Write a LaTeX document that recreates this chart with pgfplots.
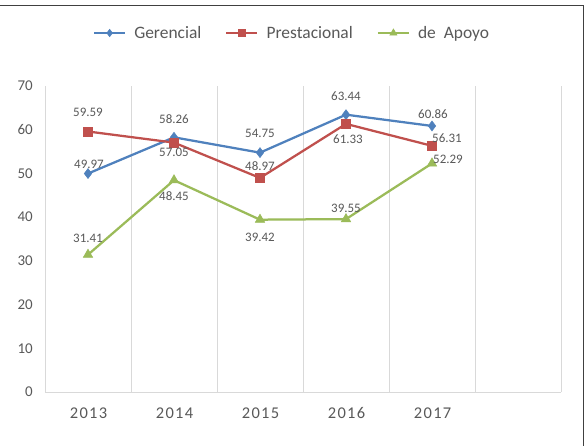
\documentclass[border=0pt]{standalone}
\usepackage{pgfplots}
\pgfplotsset{compat=1.18}
\usepackage{pgfplotstable}
\usepackage{fontspec}
\setmainfont{Carlito}
\newfontfamily\spacedfont[LetterSpace=8]{Carlito}

\definecolor{serieA}{HTML}{4F81BD}
\definecolor{serieB}{HTML}{C0504D}
\definecolor{serieC}{HTML}{9BBB59}
\definecolor{txtgray}{HTML}{595959}
\definecolor{gridgray}{HTML}{D9D9D9}
\definecolor{framegray}{HTML}{404040}

% x = year index, y = value, dx/dy = label offset (bp)
\pgfplotstableread{
x y dx dy
0 49.97 1 9
1 58.26 0 18
2 54.75 0 19
3 63.44 0 18
4 60.86 1 12
}\gerencial
\pgfplotstableread{
x y dx dy
0 59.59 0 19
1 57.05 0 -10
2 48.97 0 12
3 61.33 2 -15
4 56.31 15 8
}\prestacional
\pgfplotstableread{
x y dx dy
0 31.41 0 16
1 48.45 0 -16
2 39.42 0 -18
3 39.55 0 11
4 52.29 16 4
}\apoyo

\begin{document}
\begin{tikzpicture}
\useasboundingbox (0,0) rectangle (585bp,446bp);
\fill[white] (0,0) rectangle (585bp,446bp);
\draw[framegray, line width=1.3bp] (0,440.5bp) -- (583.5bp,440.5bp) -- (583.5bp,0);
\begin{axis}[
  at={(45bp,54bp)}, anchor=south west,
  scale only axis, width=516bp, height=306bp,
  xmin=-0.5, xmax=5.5, ymin=0, ymax=70,
  xtick={0,1,2,3,4},
  xticklabels={2013,2014,2015,2016,2017},
  minor xtick={-0.5,0.5,1.5,2.5,3.5,4.5,5.5},
  xminorgrids,
  minor grid style={gridgray, line width=1bp},
  ytick={0,10,...,70},
  major tick length=0pt, minor tick length=0pt,
  axis x line*=bottom, axis y line*=left,
  x axis line style={gridgray, line width=1bp, -},
  y axis line style={draw=none},
  yticklabel style={font=\fontsize{15}{17}\selectfont, text=txtgray, inner sep=0pt, xshift=-12bp,
    /pgf/number format/assume math mode=true},
  xticklabel style={font=\fontsize{16.5}{18}\spacedfont, text=txtgray, inner sep=0pt, anchor=north, yshift=-15.3bp, xshift=0.6bp},
  clip=false,
  legend style={at={(0.4787,1.1732)}, anchor=center, draw=none, fill=none,
    legend columns=3, font=\fontsize{17.5}{20}\selectfont, text=txtgray,
    /tikz/every odd column/.append style={column sep=6bp},
    /tikz/every even column/.append style={column sep=22bp}},
  legend image code/.code={\draw[mark repeat=2,mark phase=2,#1,every mark/.append style={scale=0.75}] plot coordinates {(0bp,0bp) (15.5bp,0bp) (31bp,0bp)};},
  nodes near coords, point meta=explicit symbolic,
  visualization depends on={\thisrow{dx} \as \dx},
  visualization depends on={\thisrow{dy} \as \dy},
  every node near coord/.append style={anchor=center, xshift={\dx*1bp}, yshift={\dy*1bp},
    font=\fontsize{13}{15}\selectfont, text=txtgray, inner sep=0pt},
]
\addplot[serieA, line width=2.25bp, mark=diamond*, mark size=5bp, mark options={solid, fill=serieA, line width=0.5bp}]
  table[x=x, y=y, meta=y] {\gerencial};
\addlegendentry{Gerencial}
\addplot[serieB, line width=2.25bp, mark=square*, mark size=4.5bp, mark options={solid, fill=serieB, line width=0.5bp}]
  table[x=x, y=y, meta=y] {\prestacional};
\addlegendentry{Prestacional}
\addplot[serieC, line width=2.25bp, mark=triangle*, mark size=5.5bp, mark options={solid, fill=serieC, line width=0.5bp}]
  table[x=x, y=y, meta=y] {\apoyo};
\addlegendentry{de\ \ Apoyo}
\end{axis}
\end{tikzpicture}
\end{document}
